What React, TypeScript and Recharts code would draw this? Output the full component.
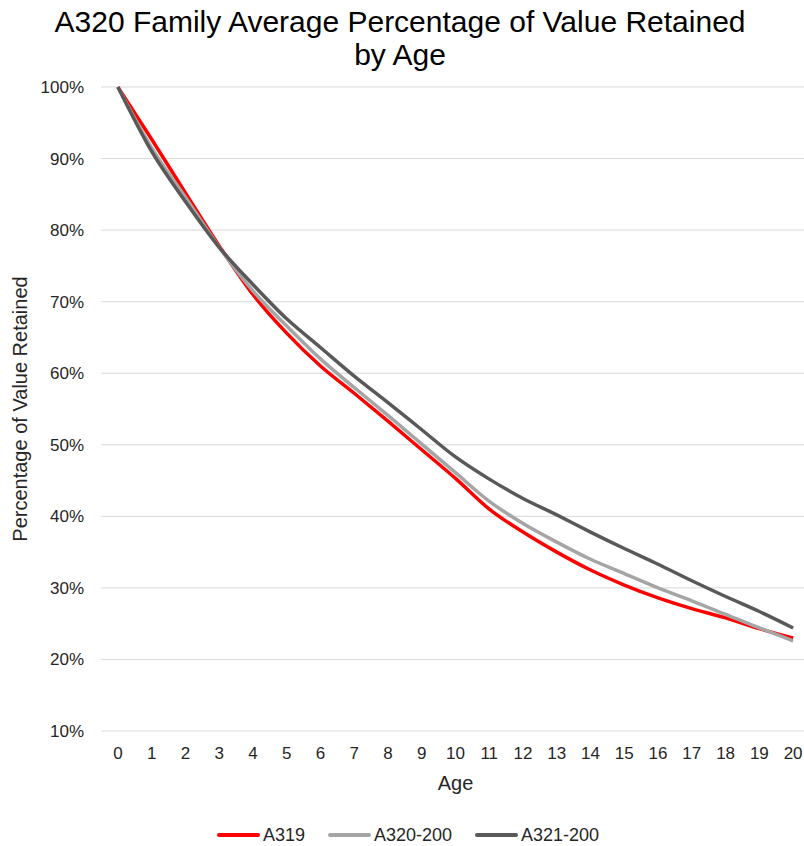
import React from 'react';
import { LineChart, Line, XAxis, YAxis, CartesianGrid } from 'recharts';

const ages = [0, 1, 2, 3, 4, 5, 6, 7, 8, 9, 10, 11, 12, 13, 14, 15, 16, 17, 18, 19, 20];
const a319 = [100, 92.7, 85.2, 77.8, 71.0, 65.6, 61.0, 57.2, 53.3, 49.3, 45.3, 41.0, 37.8, 35.0, 32.5, 30.4, 28.6, 27.1, 25.8, 24.3, 23.0];
const a320 = [100, 91.5, 84.6, 77.6, 71.5, 66.6, 62.0, 58.0, 54.1, 50.1, 46.1, 42.1, 39.0, 36.4, 34.0, 32.0, 30.0, 28.2, 26.3, 24.4, 22.6];
const a321 = [100, 91.0, 84.0, 77.6, 72.4, 67.6, 63.6, 59.6, 55.9, 52.1, 48.3, 45.2, 42.5, 40.2, 37.8, 35.5, 33.3, 31.0, 28.8, 26.7, 24.4];
const yTicks = [10, 20, 30, 40, 50, 60, 70, 80, 90, 100];

const seriesNames = ['A319', 'A320-200', 'A321-200'];
const seriesKeys = ['a319', 'a320', 'a321'];
const seriesColors = ['#FF0000', '#A5A5A5', '#595959'];

const data = ages.map((age, i) => ({ age, a319: a319[i], a320: a320[i], a321: a321[i] }));

const FONT = '"Liberation Sans", Arial, sans-serif';

export default function App() {
  return (
    <div style={{ position: 'fixed', top: 0, left: 0, width: 804, height: 846, overflow: 'hidden', fontFamily: FONT, background: '#fff' }}>
      <div style={{ position: 'absolute', top: 5, left: 0, width: 800, textAlign: 'center', fontSize: 30, lineHeight: '33px', color: '#000' }}>
        A320 Family Average Percentage of Value Retained
        <br />
        by Age
      </div>
      <LineChart width={830} height={846} data={data} margin={{ top: 87, right: 20, bottom: 50, left: 0 }}>
        <CartesianGrid vertical={false} stroke="#D9D9D9" strokeWidth={1} />
        <XAxis
          dataKey="age"
          type="number"
          domain={[-0.5, 20.5]}
          ticks={ages}
          interval={0}
          axisLine={false}
          tickLine={false}
          tickSize={0}
          tickMargin={16}
          height={65}
          tick={{ fill: '#262626', fontSize: 17, fontFamily: FONT }}
          label={{ value: 'Age', position: 'insideTop', offset: 45, fill: '#262626', fontSize: 20, fontFamily: FONT }}
        />
        <YAxis
          type="number"
          domain={[10, 100]}
          ticks={yTicks}
          interval={0}
          width={101}
          axisLine={false}
          tickLine={false}
          tickSize={0}
          tickMargin={17}
          tickFormatter={(v) => `${v}%`}
          tick={{ fill: '#262626', fontSize: 17, fontFamily: FONT }}
          label={{ value: 'Percentage of Value Retained', angle: -90, position: 'insideLeft', offset: 20, fill: '#262626', fontSize: 20, fontFamily: FONT, style: { textAnchor: 'middle' } }}
        />
        {seriesKeys.map((k, i) => (
          <Line key={k} dataKey={k} name={seriesNames[i]} type="monotone" stroke={seriesColors[i]} strokeWidth={3.5} dot={false} isAnimationActive={false} />
        ))}
      </LineChart>
      <div style={{ position: 'absolute', top: 825, left: 0, width: 816, height: 20, display: 'flex', justifyContent: 'center', alignItems: 'center', fontSize: 18, color: '#262626' }}>
        {seriesNames.map((n, i) => (
          <div key={n} style={{ display: 'flex', alignItems: 'center', marginLeft: i === 0 ? 0 : 23 }}>
            <div style={{ width: 43, height: 4, background: seriesColors[i], borderRadius: 2, marginRight: 3 }} />
            <span>{n}</span>
          </div>
        ))}
      </div>
    </div>
  );
}
